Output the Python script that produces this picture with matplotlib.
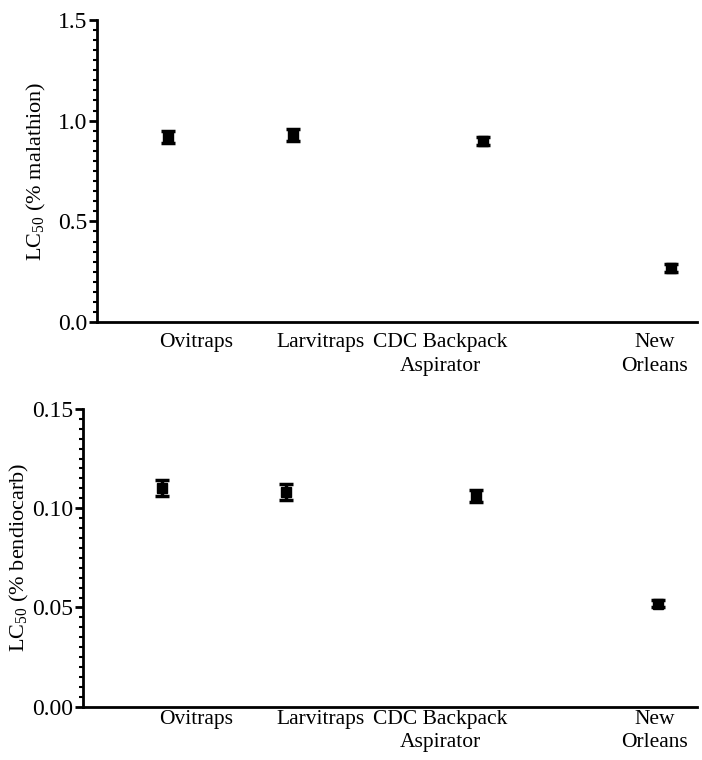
import matplotlib.pyplot as plt
from matplotlib.ticker import MultipleLocator, FormatStrFormatter

plt.rcParams['font.family'] = 'Liberation Serif'
plt.rcParams['mathtext.fontset'] = 'custom'
plt.rcParams['mathtext.rm'] = 'Liberation Serif'

labels = ['Ovitraps', 'Larvitraps', 'CDC Backpack\nAspirator', 'New\nOrleans']
label_pos = [196, 321, 440, 655]

# top panel: malathion
mal_x = [168, 293, 483, 671]
mal_y = [0.92, 0.93, 0.90, 0.27]
mal_err = [0.03, 0.03, 0.02, 0.02]

# bottom panel: bendiocarb
ben_x = [162, 286, 476, 658]
ben_y = [0.110, 0.108, 0.106, 0.052]
ben_err = [0.004, 0.004, 0.003, 0.002]

fig = plt.figure(figsize=(7.02, 7.6), dpi=100)
ax1 = fig.add_axes([97 / 702, 0.576, 600 / 702, 0.398])
ax2 = fig.add_axes([83 / 702, 0.070, 614 / 702, 0.392])


def style(ax, xlim, ylim, major, minor, fmt, ylabel, xpad, lpad):
    ax.set_ylim(*ylim)
    ax.set_xlim(*xlim)
    ax.yaxis.set_major_locator(MultipleLocator(major))
    ax.yaxis.set_minor_locator(MultipleLocator(minor))
    ax.yaxis.set_major_formatter(FormatStrFormatter(fmt))
    ax.spines['top'].set_visible(False)
    ax.spines['right'].set_visible(False)
    ax.spines['left'].set_linewidth(2)
    ax.spines['bottom'].set_linewidth(2)
    ax.tick_params(axis='y', which='major', length=6, width=2, labelsize=17, pad=1)
    ax.tick_params(axis='y', which='minor', length=3, width=1.5)
    ax.tick_params(axis='x', length=0, labelsize=15.5, pad=xpad)
    ax.set_ylabel(ylabel, fontsize=16, labelpad=lpad)


for ax, x, y, e in [(ax1, mal_x, mal_y, mal_err), (ax2, ben_x, ben_y, ben_err)]:
    ax.errorbar(x, y, yerr=e, fmt='s', color='black', markersize=6.5,
                capsize=5, capthick=2.5, elinewidth=2.5)
    ax.set_xticks(label_pos)
    ax.set_xticklabels(labels, linespacing=1.3)

style(ax1, (97, 697), (0, 1.5), 0.5, 0.05, '%.1f', 'LC$_{50}$ (% malathion)', 8, 7)
style(ax2, (83, 697), (0, 0.15), 0.05, 0.005, '%.2f', 'LC$_{50}$ (% bendiocarb)', 2, 1)

fig.savefig('out.png', dpi=100)
